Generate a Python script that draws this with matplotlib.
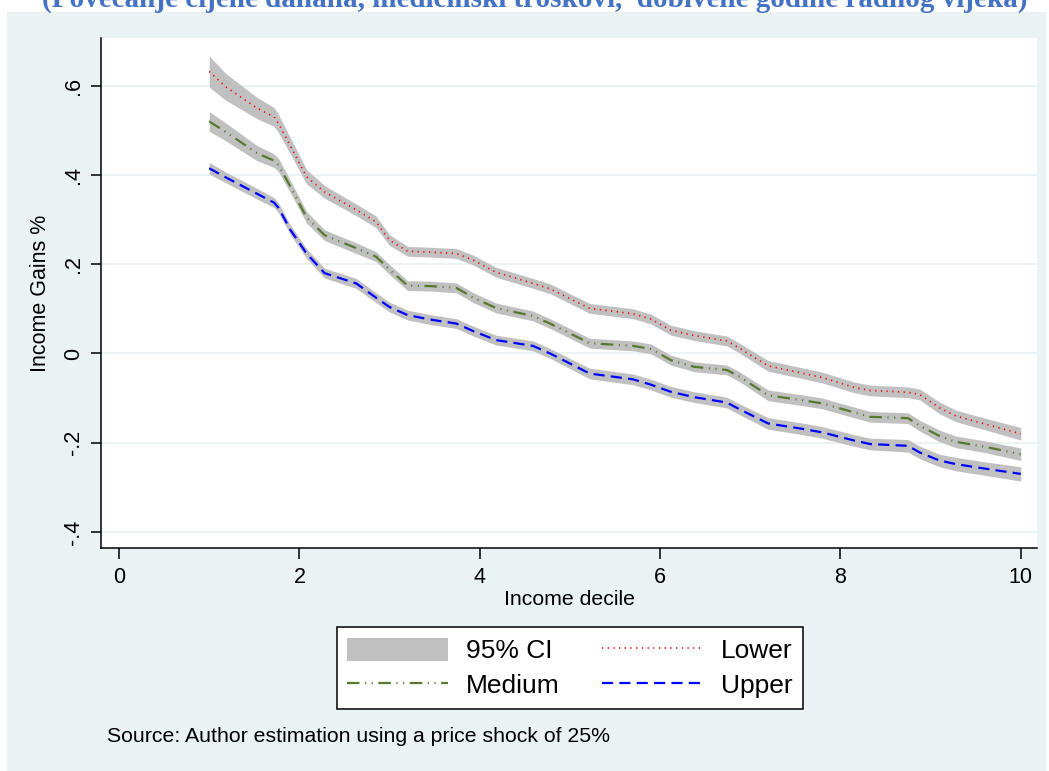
import matplotlib.pyplot as plt
from matplotlib.patches import Rectangle, Patch

plt.rcParams['font.family'] = ['Liberation Sans', 'DejaVu Sans']
plt.rcParams['lines.scale_dashes'] = False

# income decile positions of the estimates
decile = [1.0, 1.18, 1.53, 1.72, 1.77, 1.9, 2.08, 2.28, 2.63, 2.85, 3.0, 3.2,
          3.45, 3.74, 3.93, 4.18, 4.59, 4.78, 5.22, 5.7, 5.9, 6.12, 6.38, 6.74,
          6.88, 7.2, 7.55, 7.8, 8.15, 8.33, 8.75, 8.88, 9.1, 9.28, 9.6, 10.0]

lower = [0.632, 0.598, 0.550, 0.530, 0.515, 0.465, 0.396, 0.362, 0.322, 0.295,
         0.254, 0.229, 0.227, 0.224, 0.209, 0.182, 0.157, 0.145, 0.101, 0.089,
         0.077, 0.052, 0.040, 0.028, 0.012, -0.028, -0.043, -0.054, -0.076,
         -0.083, -0.087, -0.092, -0.122, -0.140, -0.158, -0.180]
medium = [0.520, 0.497, 0.449, 0.432, 0.422, 0.374, 0.305, 0.265, 0.236, 0.217,
          0.188, 0.152, 0.151, 0.147, 0.125, 0.102, 0.084, 0.067, 0.023, 0.017,
          0.010, -0.015, -0.030, -0.037, -0.052, -0.094, -0.104, -0.112, -0.132,
          -0.142, -0.145, -0.162, -0.185, -0.198, -0.209, -0.226]
upper = [0.415, 0.395, 0.358, 0.338, 0.326, 0.277, 0.224, 0.180, 0.157, 0.125,
         0.104, 0.086, 0.076, 0.067, 0.050, 0.030, 0.017, 0.000, -0.045, -0.058,
         -0.070, -0.086, -0.098, -0.110, -0.125, -0.157, -0.168, -0.177, -0.195,
         -0.203, -0.207, -0.222, -0.240, -0.248, -0.258, -0.270]

# half width of the 95% confidence bands
lower_ci = [0.035, 0.030, 0.024, 0.021, 0.020, 0.018, 0.016, 0.014, 0.013, 0.013,
            0.012, 0.011, 0.011, 0.011, 0.011, 0.011, 0.011, 0.011, 0.011, 0.011,
            0.011, 0.011, 0.011, 0.011, 0.011, 0.012, 0.012, 0.012, 0.012, 0.012,
            0.012, 0.012, 0.013, 0.013, 0.013, 0.014]
medium_ci = [0.022, 0.020, 0.017, 0.015, 0.015, 0.014, 0.013, 0.012, 0.012, 0.011,
             0.011, 0.011, 0.011, 0.011, 0.011, 0.011, 0.011, 0.011, 0.011, 0.011,
             0.011, 0.011, 0.011, 0.011, 0.011, 0.012, 0.012, 0.012, 0.012, 0.012,
             0.012, 0.012, 0.013, 0.013, 0.013, 0.014]
upper_ci = [0.013, 0.012, 0.012, 0.011, 0.011, 0.011, 0.011, 0.011, 0.011, 0.011,
            0.011, 0.011, 0.011, 0.011, 0.011, 0.011, 0.011, 0.011, 0.012, 0.012,
            0.012, 0.012, 0.012, 0.012, 0.012, 0.013, 0.013, 0.013, 0.013, 0.013,
            0.014, 0.014, 0.014, 0.015, 0.015, 0.016]

BG = "#EAF2F3"
BAND = "#C0C0C0"

fig = plt.figure(figsize=(10.49, 7.71), dpi=100)
fig.patches.append(Rectangle((7 / 1049, 0), 1038 / 1049, 1 - 12 / 771,
                             transform=fig.transFigure, color=BG, zorder=-10))

# title band, cut at the top edge as in the source picture
fig.text(535 / 1049, 1 - 7 / 771,
         "(Povećanje cijene danana, medicinski troškovi,  dobivene godine radnog vijeka)",
         ha="center", va="baseline", fontsize=21, fontweight="bold",
         family="Liberation Serif", color="#4472C4")

ax = fig.add_axes([101 / 1049, 1 - 548 / 771, 936 / 1049, 510 / 771])
ax.set_facecolor("white")

for y, hw in [(lower, lower_ci), (medium, medium_ci), (upper, upper_ci)]:
    lo = [a - b for a, b in zip(y, hw)]
    hi = [a + b for a, b in zip(y, hw)]
    ax.fill_between(decile, lo, hi, color=BAND, lw=0, zorder=2)

ln_lower, = ax.plot(decile, lower, color="red", lw=1.2, dashes=(0.9, 3.2), zorder=3)
ln_medium, = ax.plot(decile, medium, color="#557A2E", lw=1.6,
                     dashes=(9, 4, 0.8, 4, 0.8, 4), zorder=3)
ln_upper, = ax.plot(decile, upper, color="blue", lw=1.6, dashes=(8, 4.5), zorder=3)

ax.set_xlim(-0.2, 10.18)
ax.set_ylim(-0.436, 0.707)
ax.set_xticks([0, 2, 4, 6, 8, 10])
ax.set_yticks([-0.4, -0.2, 0, 0.2, 0.4, 0.6])
ax.set_yticklabels(["-.4", "-.2", "0", ".2", ".4", ".6"], rotation=90, va="center")
ax.tick_params(axis="both", labelsize=15.5, width=1.1, color="black")
ax.tick_params(axis="x", length=8, pad=6)
ax.tick_params(axis="y", length=7, pad=5)

ax.grid(axis="y", color=BG, lw=1.3, zorder=0)
ax.set_axisbelow(True)
for side in ["top", "right"]:
    ax.spines[side].set_visible(False)
for side in ["left", "bottom"]:
    ax.spines[side].set_linewidth(1.1)

ax.set_xlabel("Income decile", fontsize=15.3, labelpad=1)
ax.set_ylabel("Income Gains %", fontsize=15.5, labelpad=9)

handles = [Patch(facecolor=BAND, edgecolor="none"), ln_medium, ln_lower, ln_upper]
labels = ["95% CI", "Medium", "Lower", "Upper"]
leg = fig.legend(handles, labels, ncol=2, loc="center",
                 bbox_to_anchor=(570 / 1049, 1 - 668 / 771),
                 fontsize=19, handlelength=3.8, handleheight=1.0,
                 handletextpad=0.7, columnspacing=1.6, labelspacing=0.35,
                 borderpad=0.4, fancybox=False, framealpha=1, edgecolor="black")
leg.get_frame().set_linewidth(1.1)

fig.text(107 / 1049, 1 - 736 / 771, "Source: Author estimation using a price shock of 25%",
         ha="left", va="center", fontsize=15.3)

fig.savefig("out.png", dpi=100, facecolor="white")
